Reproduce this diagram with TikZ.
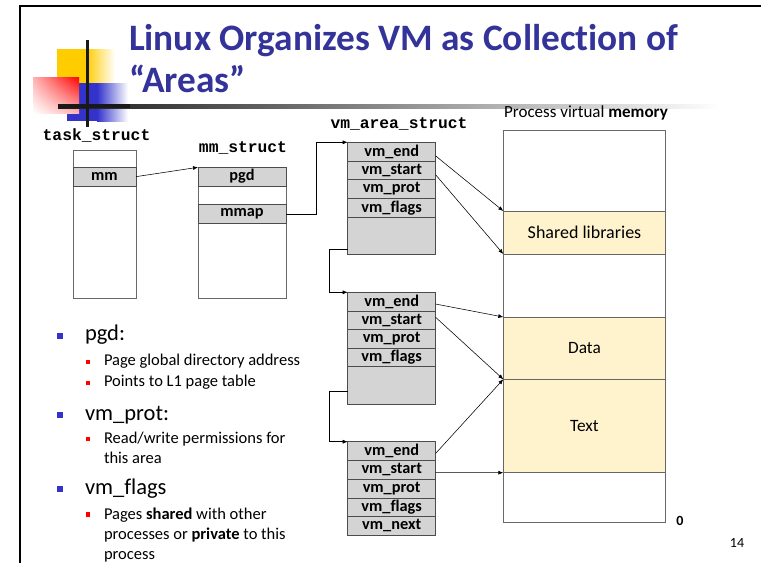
\documentclass[tikz,border=0pt]{standalone}
\usepackage{fontspec}
\setmainfont{Carlito}[Ligatures=NoCommon]
\newfontfamily\codefont{Liberation Mono}
\usetikzlibrary{arrows.meta,calc,shadings}
\definecolor{titleblue}{RGB}{51,51,153}
\definecolor{sqblue}{RGB}{51,51,204}
\definecolor{sqyellow}{RGB}{255,204,0}
\definecolor{cellgray}{RGB}{212,212,212}
\definecolor{memyellow}{RGB}{255,243,206}
\definecolor{framegray}{RGB}{105,105,105}
\begin{document}
\begin{tikzpicture}[x=1pt,y=-1pt,
  every node/.style={inner sep=0pt, outer sep=0pt},
  cell/.style={draw=black!70, line width=0.6pt, fill=cellgray, minimum width=88pt,
    minimum height=18.7pt, anchor=north west, font=\fontsize{16.3}{17}\selectfont\bfseries},
  tsbox/.style={draw=framegray, line width=0.6pt, fill=white, anchor=north west},
  region/.style={draw=black!60, line width=0.6pt, fill=memyellow, minimum width=162.4pt,
    anchor=north west, font=\fontsize{17.3}{18}\selectfont},
  structlabel/.style={font=\codefont\fontsize{16.3}{17}\selectfont\bfseries},
  link/.style={line width=0.55pt, -{Latex[length=5pt,width=4pt]}},
  mainitem/.style={anchor=base west, font=\fontsize{22.5}{24}\selectfont},
  subitem/.style={anchor=base west, font=\fontsize{16.5}{18}\selectfont},
  bigsq/.style={fill=sqblue, minimum size=6.6pt},
  smallsq/.style={fill=red, minimum size=4.3pt}]
\useasboundingbox (0,0) rectangle (761,563);

% slide frame
\draw[line width=2pt] (20,563) -- (20,6) -- (761,6);

% corner ornament
\fill[sqyellow] (57,49) rectangle (86,83);
\shade[left color=sqyellow, right color=white] (86,49) rectangle (115,83);
\fill[sqblue] (67,83) rectangle (97,121);
\shade[left color=sqblue, right color=white] (97,83) rectangle (128,121);
\shade[upper left=red!30, upper right=red, lower left=white, lower right=red!30]
  (33,77) rectangle (79,113);
\shade[left color=black!90, right color=white] (58,104) rectangle (720,108);
\fill[black!90] (58,104) rectangle (130,108);
\fill[black!90] (86,40) rectangle (89,127);

% title
\node[anchor=base west, text=titleblue, font=\fontsize{37.3}{40}\selectfont\bfseries]
  (title1) at (129,50) {Linux Organizes VM as Collection of};
\node[anchor=base west, text=titleblue, font=\fontsize{37.3}{40}\selectfont\bfseries]
  (title2) at (129,92) {“Areas”};

% task_struct
\node[structlabel] (tslabel) at (96.5,135) {task\_struct};
\node[tsbox, minimum width=63pt, minimum height=147.3pt] (ts) at (73,150.7) {};
\node[cell, minimum width=63pt] (mm) at (73,167.3) {mm};

% mm_struct
\node[structlabel] (mslabel) at (243,148) {mm\_struct};
\node[tsbox, minimum width=88pt, minimum height=130.7pt] (ms) at (198,167.3) {};
\node[cell] (pgd) at (198,167.3) {pgd};
\node[cell] (mmap) at (198,204.5) {mmap};

% vm_area_struct list
\node[structlabel] (valabel) at (399,124) {vm\_area\_struct};

\node[cell] (e1) at (347.7,142.3) {vm\_end};
\node[cell] (s1) at (347.7,161.0) {vm\_start};
\node[cell] (p1) at (347.7,179.7) {vm\_prot};
\node[cell] (f1) at (347.7,198.4) {vm\_flags};
\node[cell, minimum height=36.9pt] (b1) at (347.7,217.1) {};

\node[cell, minimum height=18.5pt] (e2) at (347.7,292.3) {vm\_end};
\node[cell, minimum height=18.5pt] (s2) at (347.7,310.8) {vm\_start};
\node[cell, minimum height=18.5pt] (p2) at (347.7,329.3) {vm\_prot};
\node[cell, minimum height=18.5pt] (f2) at (347.7,347.8) {vm\_flags};
\node[cell, minimum height=37.7pt] (b2) at (347.7,366.3) {};

\node[cell] (e3) at (347.7,441.7) {vm\_end};
\node[cell] (s3) at (347.7,460.4) {vm\_start};
\node[cell] (p3) at (347.7,479.1) {vm\_prot};
\node[cell] (f3) at (347.7,497.8) {vm\_flags};
\node[cell] (n3) at (347.7,516.5) {vm\_next};

% process virtual memory
\node[anchor=base, font=\fontsize{17}{18}\selectfont] (pvm) at (586,117.5)
  {Process virtual \textbf{memory}};
\node[draw=framegray, line width=0.7pt, fill=white, anchor=north west,
  minimum width=162.4pt, minimum height=392.3pt] (mem) at (503.3,130) {};
\node[region, minimum height=43pt, font=\fontsize{18}{19}\selectfont] (shlib) at (503.3,211) {Shared libraries};
\node[region, minimum height=62.3pt] (data) at (503.3,317) {Data};
\node[region, minimum height=93.4pt] (text) at (503.3,379.3) {Text};
\node[anchor=base, font=\fontsize{14}{15}\selectfont\bfseries] (zero) at (680,525) {0};
\node[anchor=base, font=\fontsize{14}{15}\selectfont] (pageno) at (737,547) {14};

% pointers
\draw[link] (mm.east) -- (pgd.north west);
\draw[link] (mmap.east) -- ++(30,0) |- (e1.north west);
\draw[link] ([yshift=5pt]b1.south west) -- ++(-18.5,0) |- (e2.north west);
\draw[link] ([yshift=12.3pt]b2.south west) -- ++(-18.5,0) |- (e3.north west);

\draw[link] ([yshift=-4.3pt]e1.east) -- (shlib.north west);
\draw[link] ([yshift=-4.5pt]s1.east) -- (shlib.south west);
\draw[link] ([yshift=-2.5pt]e2.east) -- (data.north west);
\draw[link] ([yshift=2.7pt]s2.east) -- (data.south west);
\draw[link] ([yshift=-2.3pt]e3.east) -- (text.north west);
\draw[link] ([yshift=-2.9pt]s3.east) -- (text.south west);

% notes
\node[bigsq] (q1) at (60,336) {};
\node[mainitem] (t1) at (85,340) {pgd:};
\node[smallsq] (r1) at (87.9,362.2) {};
\node[subitem] (t1a) at (104,365.5) {Page global directory address};
\node[smallsq] (r2) at (87.9,383.2) {};
\node[subitem] (t1b) at (104,386.5) {Points to L1 page table};
\node[bigsq] (q2) at (60,415) {};
\node[mainitem] (t2) at (85,420) {vm\_prot:};
\node[smallsq] (r3) at (87.9,438.8) {};
\node[subitem] (t2a) at (104,443.5) {Read/write permissions for};
\node[subitem] (t2b) at (104,463) {this area};
\node[bigsq] (q3) at (60,489) {};
\node[mainitem] (t3) at (85,494) {vm\_flags};
\node[smallsq] (r4) at (87.9,514.5) {};
\node[subitem] (t3a) at (104,519) {Pages \textbf{shared} with other};
\node[subitem] (t3b) at (104,539) {processes or \textbf{private} to this};
\node[subitem] (t3c) at (104,559) {process};
\end{tikzpicture}
\end{document}
